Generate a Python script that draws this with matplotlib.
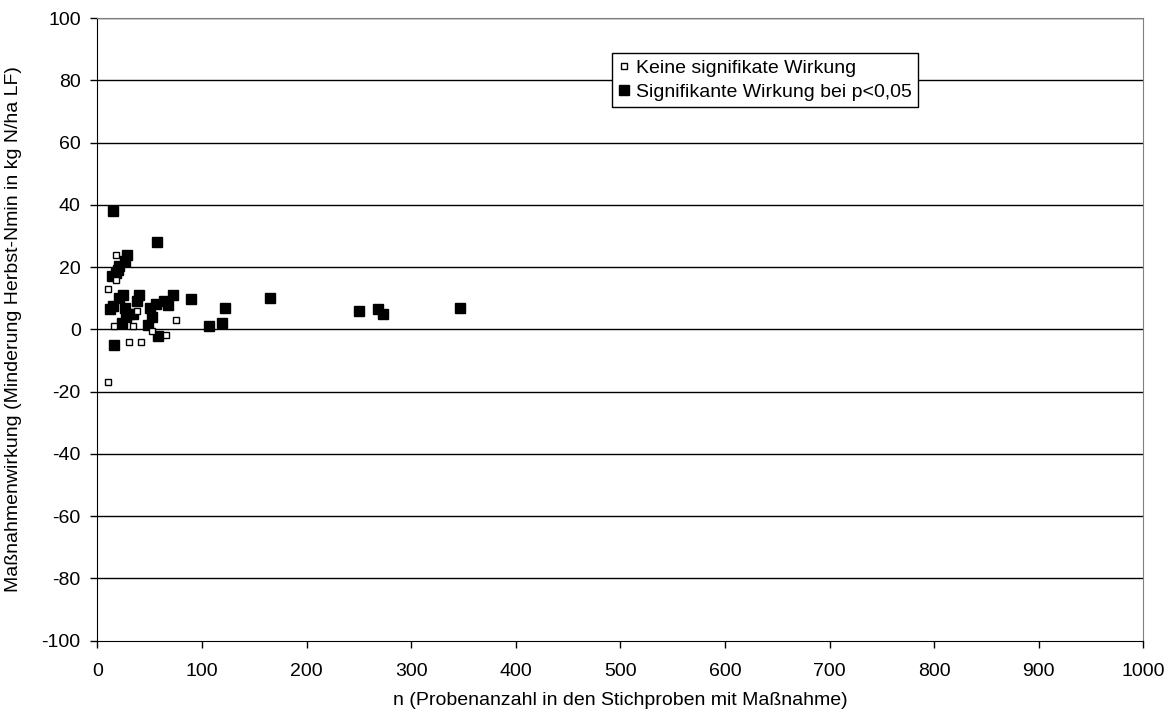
import matplotlib
matplotlib.use("Agg")
import matplotlib.pyplot as plt
from matplotlib.lines import Line2D

plt.rcParams['font.family'] = ['Liberation Sans', 'DejaVu Sans']
plt.rcParams['axes.unicode_minus'] = False

# significant effect (filled squares)
x_sig = [15, 57, 28, 26, 21, 20, 18, 14, 25, 21, 40, 38, 72, 64, 90, 122, 119, 107,
         12, 15, 26, 30, 34, 27, 24, 50, 56, 68, 52, 48, 58, 16, 165, 250, 268, 273, 347]
y_sig = [38, 28, 24, 22, 20.5, 19, 18, 17, 11, 10, 11, 9, 11, 9, 9.7, 7, 2, 1,
         6.5, 7.5, 7, 5, 5, 4, 2, 7, 8, 7.7, 4, 1.5, -2, -5, 10, 6, 6.5, 5, 7]

# no significant effect (open squares)
x_ns = [18, 18, 10, 75, 16, 34, 52, 66, 30, 42, 10, 38]
y_ns = [24, 16, 13, 3, 1.2, 1.2, -0.4, -1.8, -4, -4, -17, 6]

label_ns = "Keine signifikate Wirkung"
label_sig = "Signifikante Wirkung bei p<0,05"
xlabel = "n (Probenanzahl in den Stichproben mit Maßnahme)"
ylabel = "Maßnahmenwirkung (Minderung Herbst-Nmin in kg N/ha LF)"

FS = 14

fig = plt.figure(figsize=(11.7, 7.15), dpi=100)
ax = fig.add_axes([0.0832, 0.1039, 0.9772 - 0.0832, 0.9748 - 0.1039])

ax.set_xlim(0, 1000)
ax.set_ylim(-100, 100)
ax.set_xticks(range(0, 1001, 100))
ax.set_yticks(range(-100, 101, 20))
for yv in range(-80, 101, 20):
    ax.axhline(yv, color='black', lw=1.0, zorder=1)

ax.plot(x_sig, y_sig, ls='none', marker='s', ms=7.5, mfc='black', mec='black', zorder=3)
ax.plot(x_ns, y_ns, ls='none', marker='s', ms=4.3, mfc='white', mec='black', mew=1.0, zorder=4)

ax.tick_params(axis='both', direction='out', length=5, width=1, labelsize=FS, colors='black')
ax.tick_params(axis='x', pad=11)
ax.tick_params(axis='y', pad=7)
ax.spines['left'].set_color('black')
ax.spines['bottom'].set_color('black')
ax.spines['top'].set_color('#808080')
ax.spines['right'].set_color('#808080')

ax.set_xlabel(xlabel, fontsize=FS)
ax.set_ylabel(ylabel, fontsize=FS)
ax.xaxis.set_label_coords(0.5, -0.083)
ax.yaxis.set_label_coords(-0.072, 0.5)

h_ns = Line2D([], [], ls='none', marker='s', ms=4.3, mfc='white', mec='black', mew=1.0)
h_sig = Line2D([], [], ls='none', marker='s', ms=6.5, mfc='black', mec='black')
leg = ax.legend([h_ns, h_sig], [label_ns, label_sig], loc='lower left',
                bbox_to_anchor=(0.492, 0.857), fontsize=FS, frameon=True, fancybox=False,
                edgecolor='black', framealpha=1, borderpad=0.3, handlelength=0.6,
                handletextpad=0.35, labelspacing=0.35, borderaxespad=0)
leg.get_frame().set_linewidth(1.0)
leg.set_zorder(10)

fig.savefig("out.png", dpi=100, facecolor='white')
